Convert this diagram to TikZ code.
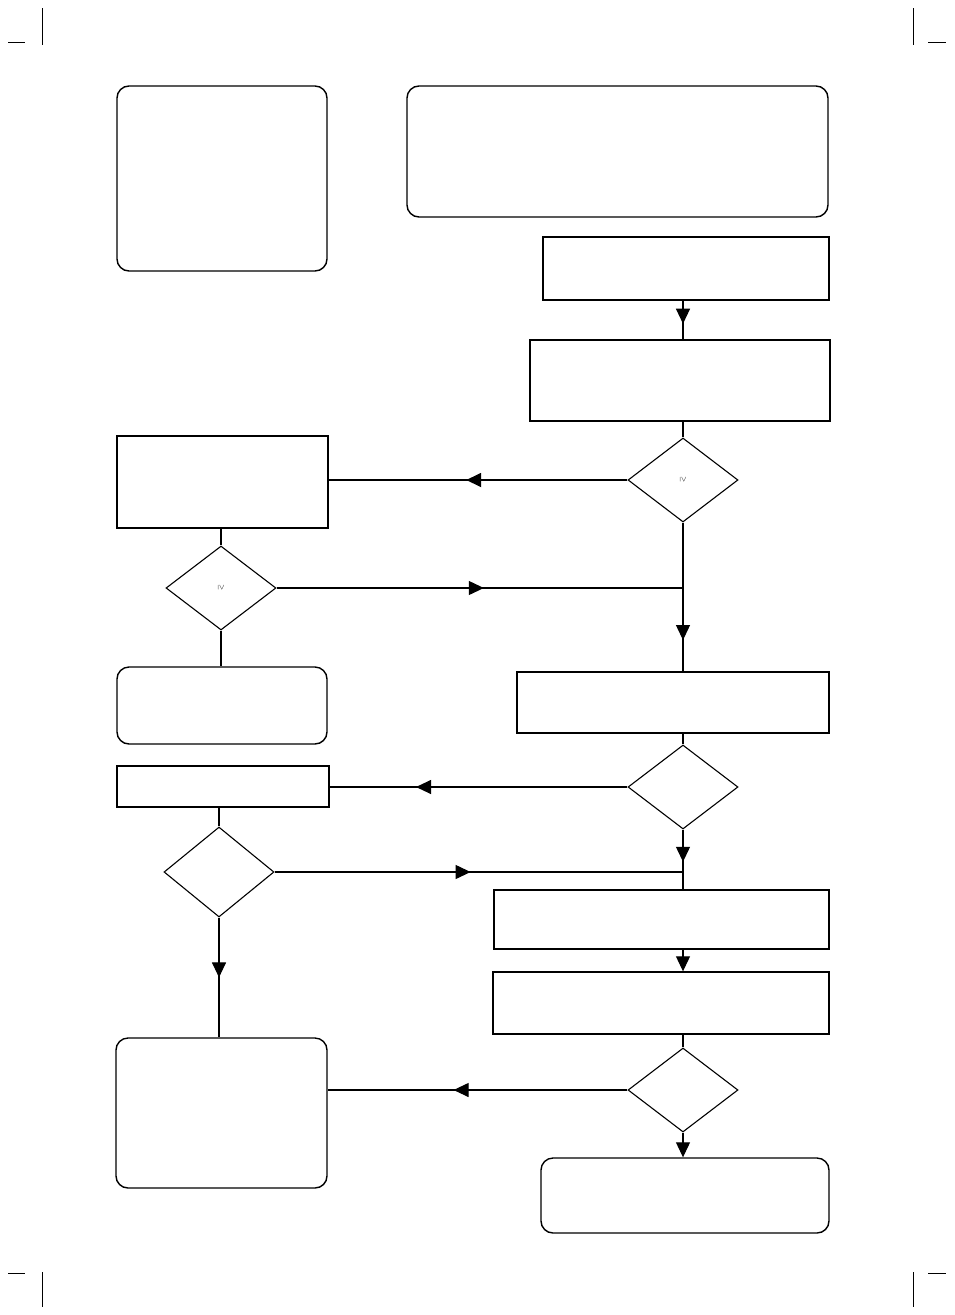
\documentclass[tikz,border=0pt]{standalone}
\usepackage{amssymb}
\usetikzlibrary{shapes.geometric,arrows.meta,decorations.markings}

\tikzset{
  box/.style={draw, line width=1.4pt, inner sep=0pt},
  roundbox/.style={box, rounded corners=12pt},
  decision/.style={draw, line width=1.1pt, diamond, inner sep=0pt, minimum width=110pt, minimum height=84pt},
  flow/.style={line width=1.1pt},
  midarrow/.style={flow, postaction=decorate, decoration={markings,
      mark=at position #1 with {\arrow{Triangle[length=15pt,width=14pt]}}}},
  crop/.style={line width=0.6pt}
}

\begin{document}
\begin{tikzpicture}[x=1pt, y=-1pt]
        \useasboundingbox (0,0) rectangle (954,1315);

        % crop marks
        \draw[crop] (42,8) -- (42,45);  \draw[crop] (8,42) -- (25,42);
        \draw[crop] (913,8) -- (913,45); \draw[crop] (928,42) -- (946,42);
        \draw[crop] (42,1272) -- (42,1307);  \draw[crop] (8,1273) -- (25,1273);
        \draw[crop] (913,1272) -- (913,1307); \draw[crop] (928,1273) -- (946,1273);

        % top boxes
        \node[roundbox, minimum width=210pt, minimum height=185pt] (notes) at (222,178.5) {};
        \node[roundbox, minimum width=421pt, minimum height=131pt] (intro) at (617.5,151.5) {};
        \node[box, minimum width=286pt, minimum height=63pt] (start) at (686,268.5) {};
        \node[box, line width=1.8pt, minimum width=300pt, minimum height=81pt] (check) at (680,380.5) {};

        % first decision
        \node[decision] (dec1) at (683,480) {\raisebox{6pt}{\rotatebox{-90}{\scriptsize$\geq$}}};
        \node[box, line width=1.8pt, minimum width=211pt, minimum height=92pt] (adjust) at (222.5,482) {};
        \node[decision] (dec2) at (221,588) {\raisebox{6pt}{\rotatebox{-90}{\scriptsize$\geq$}}};
        \node[roundbox, minimum width=210pt, minimum height=77pt] (fault1) at (222,705.5) {};
        \coordinate (join1) at (683,588);

        % second stage
        \node[box, minimum width=312pt, minimum height=61pt] (measure) at (673,702.5) {};
        \node[decision] (dec3) at (683,787) {};
        \node[box, minimum width=212pt, minimum height=41pt] (replace) at (223,786.5) {};
        \node[decision, minimum height=90pt] (dec4) at (219,872) {};
        \coordinate (join2) at (683,872);

        % third stage
        \node[box, minimum width=335pt, minimum height=59pt] (stepa) at (661.5,919.5) {};
        \node[box, minimum width=336pt, minimum height=62pt] (stepb) at (661,1003) {};
        \node[decision] (dec5) at (683,1090) {};
        \node[roundbox, minimum width=211pt, minimum height=150pt] (fault2) at (221.5,1113) {};
        \node[roundbox, minimum width=288pt, minimum height=75pt] (done) at (685,1195.5) {};

        % connectors
        \draw[midarrow=0.6] (start.south -| dec1) -- (check.north -| dec1);
        \draw[flow] (check.south -| dec1) -- (dec1.north);
        \draw[midarrow=0.54, line width=1.8pt] (dec1.west) -- (dec1.west -| adjust.east);
        \draw[flow] (adjust.south -| dec2) -- (dec2.north);
        \draw[midarrow=0.51] (dec2.east) -- (join1);
        \draw[midarrow=0.79] (dec1.south) -- (measure.north -| dec1);
        \draw[flow] (dec2.south) -- (fault1.north -| dec2);
        \draw[flow] (measure.south -| dec3) -- (dec3.north);
        \draw[midarrow=0.71] (dec3.west) -- (dec3.west -| replace.east);
        \draw[flow] (replace.south -| dec4) -- (dec4.north);
        \draw[midarrow=0.48] (dec4.east) -- (join2);
        \draw[midarrow=0.54] (dec3.south) -- (stepa.north -| dec3);
        \draw[flow, -{Triangle[length=15pt,width=14pt]}] (stepa.south -| dec5) -- (stepb.north -| dec5);
        \draw[flow] (stepb.south -| dec5) -- (dec5.north);
        \draw[midarrow=0.58] (dec5.west) -- (fault2.east |- dec5);
        \draw[midarrow=0.5] (dec4.south) -- (fault2.north -| dec4);
        \draw[flow, -{Triangle[length=15pt,width=14pt]}] (dec5.south) -- (done.north -| dec5);
    \end{tikzpicture}
\end{document}
